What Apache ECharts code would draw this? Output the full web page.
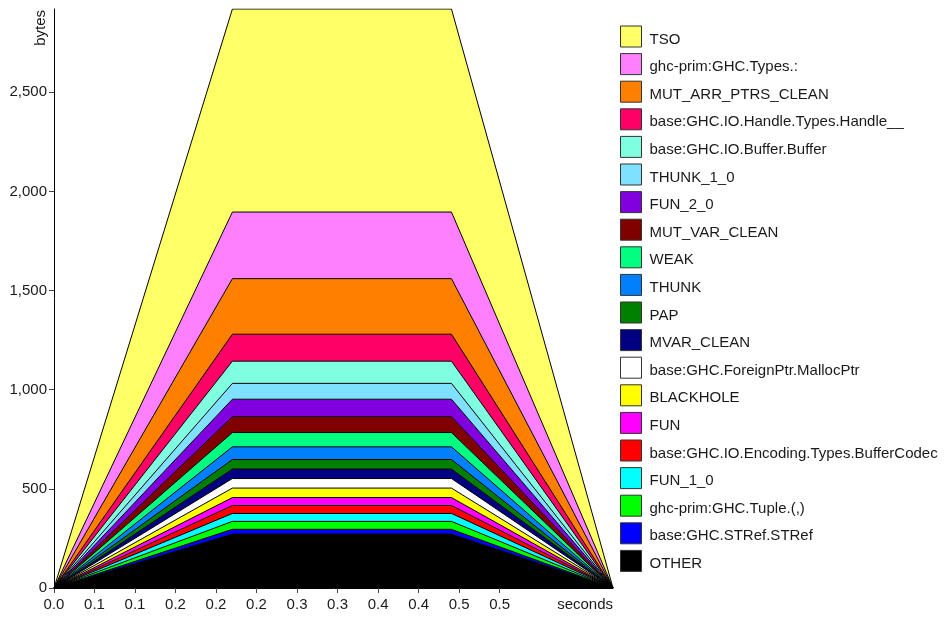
<!DOCTYPE html>
<html>
<head>
<meta charset="utf-8">
<script src="https://cdn.jsdelivr.net/npm/echarts@6/dist/echarts.min.js"></script>
<style>
  html, body { margin: 0; padding: 0; background: #ffffff; }
  #chart { width: 944px; height: 617px; }
</style>
</head>
<body>
<div id="chart"></div>
<script>
// Heap profile samples (seconds)
const sampleTimes = [0, 0.2202, 0.4906, 0.69];

// Bands, stacked from the bottom up
const bandNames = [
  'OTHER',
  'base:GHC.STRef.STRef',
  'ghc-prim:GHC.Tuple.(,)',
  'FUN_1_0',
  'base:GHC.IO.Encoding.Types.BufferCodec',
  'FUN',
  'BLACKHOLE',
  'base:GHC.ForeignPtr.MallocPtr',
  'MVAR_CLEAN',
  'PAP',
  'THUNK',
  'WEAK',
  'MUT_VAR_CLEAN',
  'FUN_2_0',
  'THUNK_1_0',
  'base:GHC.IO.Buffer.Buffer',
  'base:GHC.IO.Handle.Types.Handle__',
  'MUT_ARR_PTRS_CLEAN',
  'ghc-prim:GHC.Types.:',
  'TSO'
];

// Bytes per band at each sample time (same order as bandNames)
const bandBytes = [
  [0, 272, 272, 0],
  [0, 24, 24, 0],
  [0, 40, 40, 0],
  [0, 40, 40, 0],
  [0, 40, 40, 0],
  [0, 40, 40, 0],
  [0, 48, 48, 0],
  [0, 48, 48, 0],
  [0, 48, 48, 0],
  [0, 48, 48, 0],
  [0, 64, 64, 0],
  [0, 72, 72, 0],
  [0, 80, 80, 0],
  [0, 88, 88, 0],
  [0, 80, 80, 0],
  [0, 112, 112, 0],
  [0, 136, 136, 0],
  [0, 280, 280, 0],
  [0, 336, 336, 0],
  [0, 1024, 1024, 0]
];

const bandColors = [
  '#000000', '#0000ff', '#00ff00', '#00ffff', '#ff0000',
  '#ff00ff', '#ffff00', '#ffffff', '#000080', '#008000',
  '#0080ff', '#00ff80', '#800000', '#8000e0', '#80e0ff',
  '#80ffe0', '#ff0066', '#ff8000', '#ff80ff', '#ffff66'
];

// Axis ticks
const yTickValues = [0, 500, 1000, 1500, 2000, 2500];
const xTickValues = [0, 0.05, 0.1, 0.15, 0.2, 0.25, 0.3, 0.35, 0.4, 0.45, 0.5, 0.55];
const xTickLabels = ['0.0', '0.1', '0.1', '0.2', '0.2', '0.2', '0.3', '0.3', '0.4', '0.4', '0.5', '0.5'];

const FONT = '"Liberation Sans", Arial, sans-serif';
const TEXT = '#1a1a1a';

// Bytes come first in each row so the stack accumulates on the bytes dimension
const series = bandNames.map((name, i) => ({
  name: name,
  type: 'line',
  stack: 'heap',
  symbol: 'none',
  silent: true,
  dimensions: ['bytes', 'time'],
  encode: { x: 'time', y: 'bytes' },
  data: sampleTimes.map((t, j) => [bandBytes[i][j], t]),
  lineStyle: { color: '#000000', width: 1 },
  areaStyle: { color: bandColors[i], opacity: 1 },
  itemStyle: { color: bandColors[i], borderColor: '#333333', borderWidth: 1 }
}));

const chart = echarts.init(document.getElementById('chart'), null, { renderer: 'canvas' });
chart.setOption({
  animation: false,
  backgroundColor: '#ffffff',
  grid: { left: 54, right: 331, top: 9, bottom: 29, containLabel: false },
  xAxis: {
    type: 'value',
    min: 0,
    max: sampleTimes[sampleTimes.length - 1],
    splitLine: { show: false },
    axisLine: { show: true, onZero: false, lineStyle: { color: '#000000', width: 1 } },
    axisTick: { show: true, length: 5, customValues: xTickValues, lineStyle: { color: '#444444' } },
    axisLabel: {
      customValues: xTickValues,
      margin: 9,
      fontSize: 15,
      fontFamily: FONT,
      color: TEXT,
      formatter: function (v) {
        const k = xTickValues.findIndex(x => Math.abs(x - v) < 1e-6);
        return k >= 0 ? xTickLabels[k] : '';
      }
    }
  },
  yAxis: {
    type: 'value',
    min: 0,
    max: function (e) { return e.max; },
    splitLine: { show: false },
    axisLine: { show: true, lineStyle: { color: '#000000', width: 1 } },
    axisTick: { show: true, length: 5, customValues: yTickValues, lineStyle: { color: '#444444' } },
    axisLabel: {
      customValues: yTickValues,
      margin: 7,
      fontSize: 15,
      fontFamily: FONT,
      color: TEXT,
      formatter: function (v) { return v.toLocaleString('en-US'); }
    }
  },
  legend: {
    orient: 'vertical',
    left: 620,
    top: 25.5,
    padding: 0,
    itemWidth: 21,
    itemHeight: 21,
    itemGap: 5.6,
    icon: 'rect',
    selectedMode: false,
    data: bandNames.slice().reverse(),
    itemStyle: { borderColor: '#333333', borderWidth: 1 },
    formatter: function (name) { return '{t|' + name + '}'; },
    textStyle: {
      fontSize: 15, fontFamily: FONT, color: TEXT,
      rich: { t: { fontSize: 15, fontFamily: FONT, color: TEXT, padding: [6, 0, 0, 3] } }
    }
  },
  graphic: [
    {
      type: 'text',
      x: 48, y: 10,
      rotation: Math.PI / 2,
      style: { text: 'bytes', font: '15px ' + FONT, fill: TEXT, align: 'right', verticalAlign: 'bottom' }
    },
    {
      type: 'text',
      x: 613, y: 597,
      style: { text: 'seconds', font: '15px ' + FONT, fill: TEXT, align: 'right', verticalAlign: 'top' }
    }
  ],
  series: series
});
</script>
</body>
</html>
